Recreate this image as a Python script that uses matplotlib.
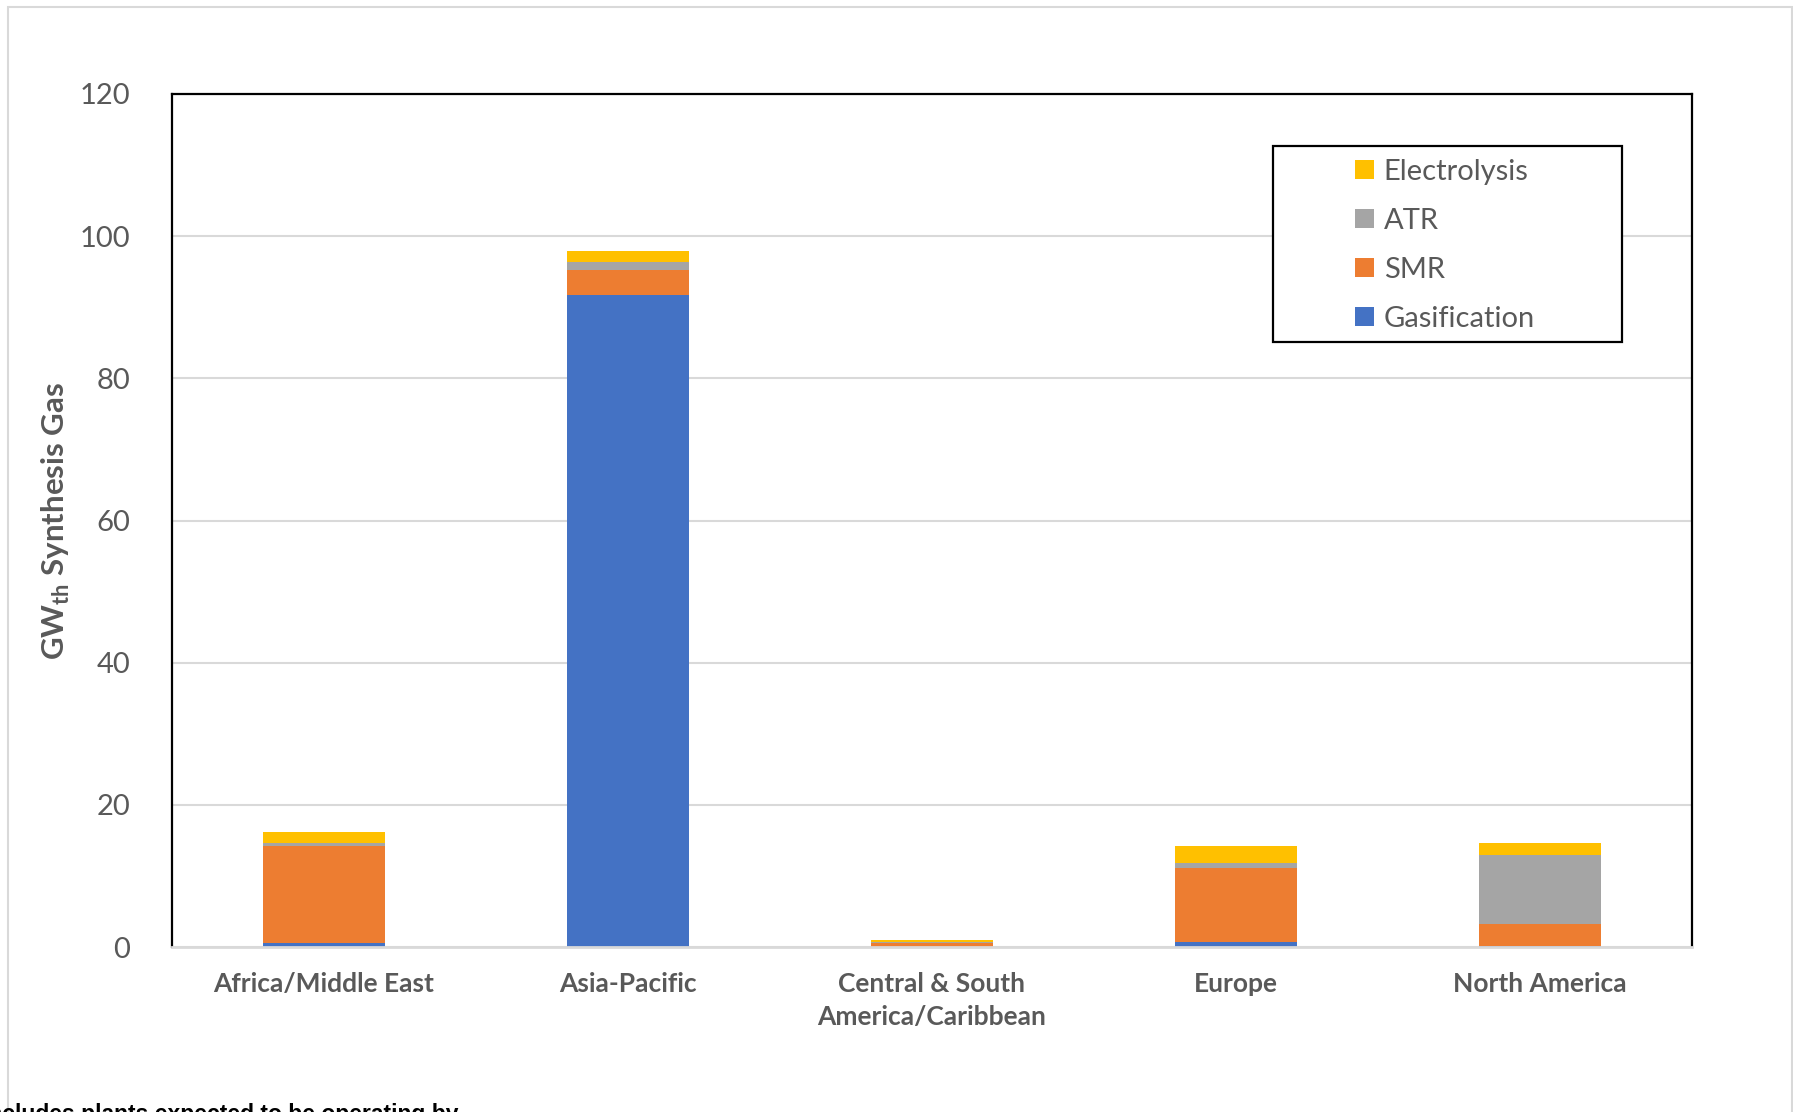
import matplotlib
matplotlib.use("Agg")
import matplotlib.pyplot as plt
from matplotlib.patches import Rectangle
import numpy as np

# data (GW_th synthesis gas by region and technology)
regions = ["Africa/Middle East", "Asia-Pacific", "Central & South\nAmerica/Caribbean",
           "Europe", "North America"]
gasification = [0.6, 91.7, 0.05, 0.65, 0.1]
smr = [13.6, 3.6, 0.55, 10.4, 3.2]
atr = [0.5, 1.0, 0.05, 0.8, 9.6]
electrolysis = [1.5, 1.6, 0.35, 2.3, 1.7]

series = [("Gasification", gasification, "#4472C4"),
          ("SMR", smr, "#ED7D31"),
          ("ATR", atr, "#A5A5A5"),
          ("Electrolysis", electrolysis, "#FFC000")]

yticks = [0, 20, 40, 60, 80, 100, 120]
text_gray = "#595959"
grid_gray = "#D9D9D9"

plt.rcParams["font.family"] = ["Lato", "DejaVu Sans"]
plt.rcParams["mathtext.fontset"] = "custom"
plt.rcParams["mathtext.rm"] = "Lato"
plt.rcParams["mathtext.bf"] = "Lato:bold"

W, H = 1793, 1112
fig = plt.figure(figsize=(W / 100, H / 100), dpi=100)
ax = fig.add_axes([172 / W, 1 - 947 / H, 1520 / W, 853 / H])

x = np.arange(len(regions))
bottom = np.zeros(len(regions))
handles = []
for name, vals, col in series:
    b = ax.bar(x, vals, width=0.4, bottom=bottom, color=col, label=name, zorder=3)
    handles.append(b)
    bottom += np.array(vals)

ax.set_xlim(-0.5, len(regions) - 0.5)
ax.set_ylim(0, 120)
ax.set_yticks(yticks)
ax.set_yticklabels([str(t) for t in yticks], fontsize=21, color=text_gray)
ax.set_xticks(x)
ax.set_xticklabels(regions, fontsize=19, fontweight="bold", color=text_gray,
                   linespacing=1.45)
ax.tick_params(axis="both", length=0)
ax.tick_params(axis="y", pad=30)
ax.tick_params(axis="x", pad=18)
ax.yaxis.grid(True, color=grid_gray, linewidth=1.5, zorder=0)
ax.set_axisbelow(True)

for side in ["left", "right", "top"]:
    ax.spines[side].set_color("black")
    ax.spines[side].set_linewidth(1.6)
ax.spines["bottom"].set_color(grid_gray)
ax.spines["bottom"].set_linewidth(2)
ax.spines["bottom"].set_zorder(4)

ax.set_ylabel(r"GW$_{\mathbf{th}}$ Synthesis Gas", fontsize=22.5, fontweight="bold",
              color=text_gray)
ax.yaxis.set_label_coords(-100 / 1520, 0.5)

# legend box (white, black frame) drawn separately like the Excel frame
ax.add_patch(Rectangle(((1273 - 172) / 1520, (947 - 342) / 853),
                       (1622 - 1273) / 1520, (342 - 146) / 853,
                       transform=ax.transAxes, facecolor="white", edgecolor="black",
                       linewidth=1.6, zorder=5, clip_on=False))
leg = ax.legend(handles[::-1], [s[0] for s in series][::-1],
                loc="upper left", bbox_to_anchor=((1343 - 172) / 1520, (947 - 147) / 853),
                frameon=False, fontsize=21, labelcolor=text_gray,
                handlelength=0.65, handleheight=0.65, handletextpad=0.35,
                labelspacing=0.79, borderaxespad=0)
leg.set_zorder(6)
for t in leg.get_texts():
    t.set_color(text_gray)

# outer chart border
fig.add_artist(Rectangle((8 / W, -0.05), (1792 - 8) / W, 1.05 - 7 / H,
                         transform=fig.transFigure, fill=False,
                         edgecolor=grid_gray, linewidth=1.5))

# cut-off footnote below the chart
fig.text(458 / W, 1 - 1103 / H, "Includes plants expected to be operating by",
         ha="right", va="top", fontsize=16.5, fontweight="bold",
         family="Liberation Sans", color="black")

fig.savefig("out.png", dpi=100)
